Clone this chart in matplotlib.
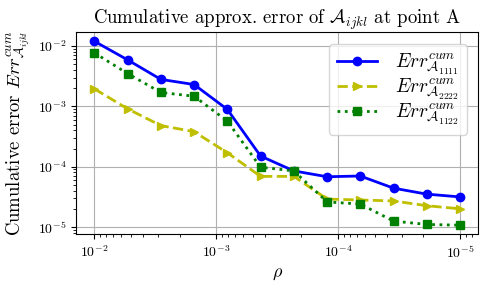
import matplotlib
matplotlib.use("Agg")
import matplotlib.pyplot as plt

plt.rcParams['font.family'] = 'serif'
plt.rcParams['font.serif'] = ['cmr10']
plt.rcParams['mathtext.fontset'] = 'cm'
plt.rcParams['axes.formatter.use_mathtext'] = True

rho = [1e-2, 5.34e-3, 2.85e-3, 1.52e-3, 8.11e-4, 4.33e-4, 2.31e-4,
       1.23e-4, 6.58e-5, 3.51e-5, 1.87e-5, 1e-5]
err_1111 = [1.2e-2, 5.9e-3, 2.8e-3, 2.3e-3, 8.9e-4, 1.5e-4, 8.5e-5,
            6.8e-5, 7.0e-5, 4.4e-5, 3.5e-5, 3.15e-5]
err_2222 = [1.95e-3, 9.1e-4, 4.8e-4, 3.8e-4, 1.7e-4, 6.9e-5, 6.9e-5,
            2.9e-5, 2.8e-5, 2.7e-5, 2.25e-5, 2.0e-5]
err_1122 = [7.7e-3, 3.5e-3, 1.7e-3, 1.47e-3, 5.7e-4, 9.8e-5, 8.5e-5,
            2.6e-5, 2.4e-5, 1.25e-5, 1.1e-5, 1.07e-5]

labels = [r'$Err^{cum}_{\mathcal{A}_{1111}}$',
          r'$Err^{cum}_{\mathcal{A}_{2222}}$',
          r'$Err^{cum}_{\mathcal{A}_{1122}}$']

fig = plt.figure(figsize=(4.88, 2.89), dpi=100)
ax = fig.add_axes([0.156, 0.189, 0.824, 0.700])
ax.loglog(rho, err_1111, 'b-o', lw=2, ms=6, label=labels[0])
ax.loglog(rho, err_2222, 'y--', marker='>', lw=2, ms=6, label=labels[1])
ax.loglog(rho, err_1122, 'g:', marker='s', lw=2, ms=6, label=labels[2])
ax.invert_xaxis()
ax.grid(True, which='major', color='#b0b0b0', lw=0.8)
ax.set_title(r'Cumulative approx. error of $\mathcal{A}_{ijkl}$ at point A', fontsize=13.5)
ax.set_xlabel(r'$\rho$', fontsize=13)
ax.set_ylabel(r'Cumulative error $Err^{cum}_{\mathcal{A}_{ijkl}}$', fontsize=13.5)
ax.tick_params(labelsize=10)
ax.legend(loc='upper right', fontsize=14, labelspacing=0.0,
          borderaxespad=0.6, handletextpad=0.9, handlelength=2.1)
fig.savefig('out.png', dpi=100)
